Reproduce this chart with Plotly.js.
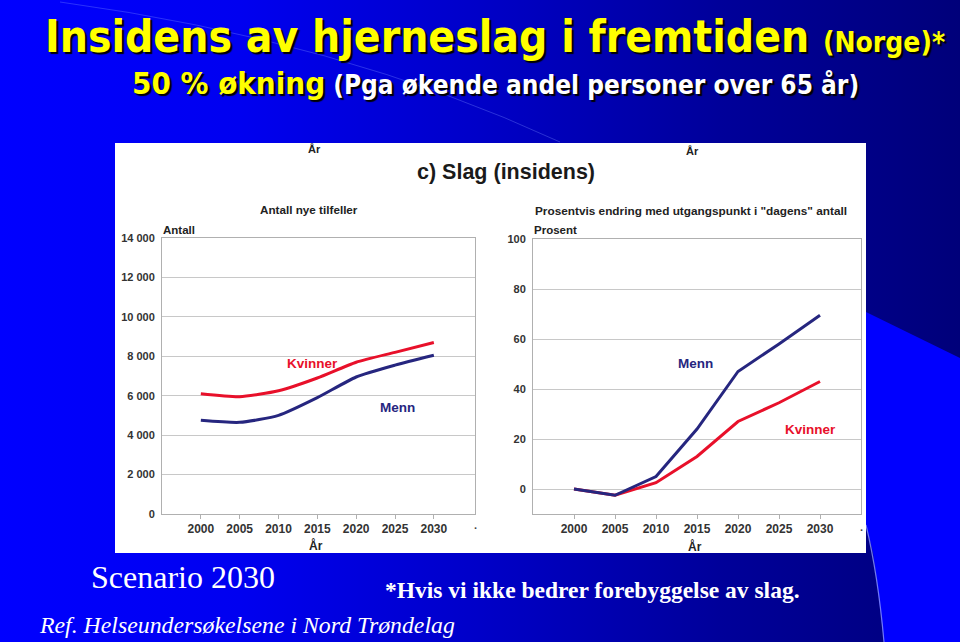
<!DOCTYPE html>
<html>
<head>
<meta charset="utf-8">
<script src="https://cdn.plot.ly/plotly-3.0.1.min.js"></script>
<style>
  html, body { margin: 0; padding: 0; }
  body { width: 960px; height: 642px; overflow: hidden;
    background: linear-gradient(to right, #0000ff 0%, #0000f0 25%, #0000c8 50%, #00009a 75%, #00007a 100%); }
  #chart { width: 960px; height: 642px; }
</style>
</head>
<body>
<div id="chart"></div>
<script>
// ---- data ----
const years = [2000, 2005, 2010, 2015, 2020, 2025, 2030];
const antallKvinner = [6100, 5950, 6250, 6900, 7700, 8200, 8700];
const antallMenn = [4750, 4650, 5000, 5900, 6950, 7550, 8050];
const prosentKvinner = [0, -2.5, 2.5, 13, 27, 34.5, 43];
const prosentMenn = [0, -2.5, 5, 24, 47, 58, 69.5];
const antallTicks = [0, 2000, 4000, 6000, 8000, 10000, 12000, 14000];
const antallTickText = ['0', '2 000', '4 000', '6 000', '8 000', '10 000', '12 000', '14 000'];
const prosentTicks = [0, 20, 40, 60, 80, 100];
const yearTicks = ['2000', '2005', '2010', '2015', '2020', '2025', '2030'];

// ---- helpers (pixel -> paper) ----
const W = 960, H = 642;
const px = x => x / W;
const py = y => 1 - y / H;

const RED = '#e8102a';
const BLUE = '#26267f';
const sans = 'Liberation Sans, Arial, sans-serif';
const narrow = 'Liberation Sans Narrow, Arial Narrow, DejaVu Sans Condensed, sans-serif';
const serif = 'Liberation Serif, Times New Roman, serif';

const traces = [
  { x: years, y: antallKvinner, xaxis: 'x', yaxis: 'y', mode: 'lines', name: 'Kvinner',
    line: { color: RED, width: 3, shape: 'spline', smoothing: 0.6 } },
  { x: years, y: antallMenn, xaxis: 'x', yaxis: 'y', mode: 'lines', name: 'Menn',
    line: { color: BLUE, width: 3, shape: 'spline', smoothing: 0.6 } },
  { x: years, y: prosentKvinner, xaxis: 'x2', yaxis: 'y2', mode: 'lines', name: 'Kvinner',
    line: { color: RED, width: 3 } },
  { x: years, y: prosentMenn, xaxis: 'x2', yaxis: 'y2', mode: 'lines', name: 'Menn',
    line: { color: BLUE, width: 3 } }
];

const yTickFont = { family: sans, size: 11, color: '#333', weight: 'bold' };
const xTickFont = { family: sans, size: 12, color: '#333', weight: 'bold' };
const xCommon = {
  range: [1995, 2035.3], tickvals: years.map(Number), ticktext: yearTicks,
  showgrid: false, zeroline: false, showline: true, mirror: true, linecolor: '#b0b0b0', linewidth: 1,
  ticks: 'outside', ticklen: 4, tickcolor: '#b0b0b0', tickfont: xTickFont, fixedrange: true
};
const yCommon = {
  showgrid: true, gridcolor: '#c8c8c8', gridwidth: 1, zeroline: false,
  showline: true, mirror: true, linecolor: '#b0b0b0', linewidth: 1,
  ticks: '', tickfont: yTickFont, ticklabelstandoff: 4, fixedrange: true
};

function ann(text, x, y, opts) {
  return Object.assign({ text: text, x: px(x), y: py(y), xref: 'paper', yref: 'paper',
    showarrow: false, xanchor: 'center', yanchor: 'middle' }, opts || {});
}
const lbl = (size, color, bold) => ({ family: sans, size: size, color: color, weight: bold ? 'bold' : 'normal' });

const shadow = '2px 2px 1px #000';

const annotations = [
  // slide title
  ann('<span style="color:#ffff00">Insidens av hjerneslag i fremtiden</span> <span style="font-size:28px;color:#ffff00">(Norge)*</span>',
      495, 37, { font: { family: narrow, size: 44, color: '#ffff00', weight: 'bold', shadow: shadow } }),
  ann('<span style="color:#ffff00;font-size:31px">50 % økning</span> <span style="color:#ffffff">(Pga økende andel personer over 65 år)</span>',
      495, 83, { font: { family: narrow, size: 26, color: '#ffffff', weight: 'bold', shadow: shadow } }),
  // chart texts
  ann('År', 314, 149, { font: lbl(11, '#222', true) }),
  ann('År', 692, 151, { font: lbl(11, '#222', true) }),
  ann('c) Slag (insidens)', 506, 172, { font: lbl(21.5, '#1a1a1a', true) }),
  ann('Antall nye tilfeller', 309, 210, { font: lbl(11.7, '#222', true) }),
  ann('Prosentvis endring med utgangspunkt i "dagens" antall', 691, 211, { font: lbl(11.8, '#222', true) }),
  ann('Antall', 161, 230, { xanchor: 'left', font: lbl(11.5, '#222', true) }),
  ann('Prosent', 532, 230, { xanchor: 'left', font: lbl(11.5, '#222', true) }),
  ann('År', 316, 545, { font: lbl(12, '#222', true) }),
  ann('År', 695, 546, { font: lbl(12, '#222', true) }),
  ann('.', 475, 525, { font: lbl(11, '#444', true) }),
  ann('.', 861, 527, { font: lbl(11, '#444', true) }),
  // series labels
  ann('Kvinner', 312, 364, { font: lbl(13.5, RED, true) }),
  ann('Menn', 397, 407, { font: lbl(13.5, BLUE, true) }),
  ann('Menn', 695, 363, { font: lbl(13.5, BLUE, true) }),
  ann('Kvinner', 810, 429, { font: lbl(13.5, RED, true) }),
  // footer
  ann('Scenario 2030', 89, 577, { xanchor: 'left', font: { family: serif, size: 32, color: '#ffffff' } }),
  ann('*Hvis vi ikke bedrer forebyggelse av slag.', 383, 590, { xanchor: 'left', font: { family: serif, size: 23.5, color: '#ffffff', weight: 'bold' } }),
  ann('Ref. Helseundersøkelsene i Nord Trøndelag', 37, 625, { xanchor: 'left', font: { family: serif, size: 23.8, color: '#ffffff', style: 'italic' } })
];

function pathOf(points) {
  return 'M ' + points.map(p => px(p[0]).toFixed(5) + ',' + py(p[1]).toFixed(5)).join(' L ') + ' Z';
}

const shapes = [
  // bright blue corner region on right
  { type: 'path', xref: 'paper', yref: 'paper', layer: 'below', line: { width: 0 }, fillcolor: '#0000ff',
    path: pathOf([[866, 312], [960, 358], [960, 642], [884, 642], [878, 590], [873, 553], [866, 525]]) },
  // light arc edge bottom right
  { type: 'path', xref: 'paper', yref: 'paper', layer: 'below', line: { color: 'rgba(140,150,255,0.8)', width: 1.2 },
    path: 'M ' + px(866) + ',' + py(525) + ' Q ' + px(878) + ',' + py(575) + ' ' + px(884) + ',' + py(642) },
  // faint decorative arc at top
  { type: 'path', xref: 'paper', yref: 'paper', layer: 'below', line: { color: 'rgba(120,140,255,0.35)', width: 1 },
    path: 'M ' + px(60) + ',' + py(2) + ' Q ' + px(340) + ',' + py(40) + ' ' + px(560) + ',' + py(142) },
  // white panel
  { type: 'rect', xref: 'paper', yref: 'paper', layer: 'below', line: { width: 0 }, fillcolor: '#ffffff',
    x0: px(115), x1: px(866), y0: py(553), y1: py(143) }
];

const layout = {
  width: W, height: H,
  margin: { l: 0, r: 0, t: 0, b: 0 },
  paper_bgcolor: 'rgba(0,0,0,0)',
  plot_bgcolor: '#ffffff',
  showlegend: false,
  font: { family: sans },
  xaxis: Object.assign({}, xCommon, { domain: [px(162), px(475)], anchor: 'y' }),
  yaxis: Object.assign({}, yCommon, { domain: [py(514), py(238)], anchor: 'x', range: [0, 14000],
    tickvals: antallTicks, ticktext: antallTickText }),
  xaxis2: Object.assign({}, xCommon, { domain: [px(533), px(861)], anchor: 'y2', range: [1995, 2035] }),
  yaxis2: Object.assign({}, yCommon, { domain: [py(514), py(239)], anchor: 'x2', range: [-10, 100],
    tickvals: prosentTicks }),
  annotations: annotations,
  shapes: shapes
};

Plotly.newPlot('chart', traces, layout, { displayModeBar: false, staticPlot: true });
</script>
</body>
</html>
